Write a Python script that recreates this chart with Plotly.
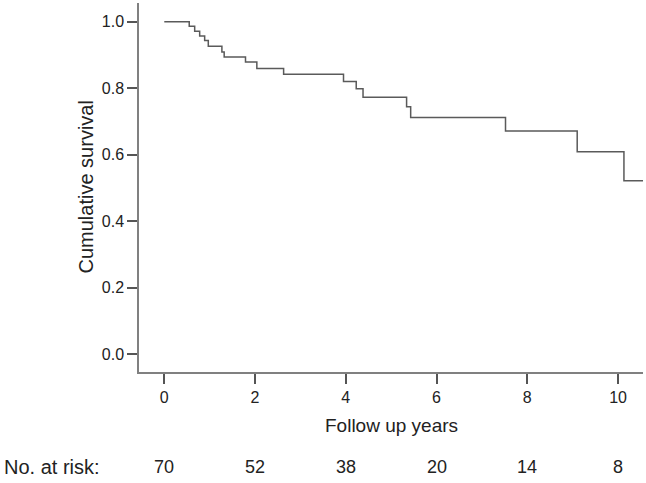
"""Kaplan-Meier survival curve with numbers at risk below the axis."""

import plotly.graph_objects as go

# ---------------------------------------------------------------------------
# Data
# ---------------------------------------------------------------------------
TIMES = [0, 0.55, 0.67, 0.78, 0.89, 0.97, 1.27, 1.32, 1.79, 2.04, 2.63,
         3.95, 4.23, 4.38, 5.34, 5.43, 7.52, 9.10, 10.13, 10.55]
SURVIVAL = [1.0, 0.986, 0.971, 0.957, 0.943, 0.926, 0.909, 0.894, 0.879, 0.859, 0.842,
            0.820, 0.798, 0.773, 0.744, 0.712, 0.671, 0.609, 0.522, 0.522]

RISK_YEARS = [0, 2, 4, 6, 8, 10]
AT_RISK = [70, 52, 38, 20, 14, 8]

X_TICKS = [0, 2, 4, 6, 8, 10]
Y_TICKS = [0.0, 0.2, 0.4, 0.6, 0.8, 1.0]

FONT = "Liberation Sans, Arial, sans-serif"
AXIS_COLOR = "#808080"
LINE_COLOR = "#5a5a5a"
TEXT_COLOR = "#222222"

fig = go.Figure(
    go.Scatter(
        x=TIMES,
        y=SURVIVAL,
        mode="lines",
        line={"shape": "hv", "color": LINE_COLOR, "width": 1.5},
        showlegend=False,
    )
)

axis_common = dict(
    showline=True,
    linecolor=AXIS_COLOR,
    linewidth=1.5,
    showgrid=False,
    zeroline=False,
    ticks="outside",
    ticklen=10,
    tickcolor="#555555",
    tickwidth=1.5,
    tickfont={"family": FONT, "size": 16, "color": TEXT_COLOR},
)

fig.update_xaxes(range=[-0.557, 10.55], tickvals=X_TICKS, **axis_common)
fig.update_yaxes(range=[-0.053, 1.056], tickvals=Y_TICKS, tickformat=".1f", **axis_common)

# axis titles
fig.add_annotation(
    text="Follow up years", xref="paper", yref="paper", x=0.5, y=0,
    xanchor="center", yanchor="middle", yshift=-53, showarrow=False,
    font={"family": FONT, "size": 19, "color": TEXT_COLOR},
)
fig.add_annotation(
    text="Cumulative survival", xref="paper", yref="paper", x=0, y=0.5,
    xanchor="center", yanchor="middle", xshift=-54, textangle=-90, showarrow=False,
    font={"family": FONT, "size": 20, "color": TEXT_COLOR},
)

# numbers at risk
fig.add_annotation(
    text="No. at risk:", xref="paper", yref="paper", x=0, y=0,
    xanchor="left", yanchor="middle", xshift=-137, yshift=-95, showarrow=False,
    font={"family": FONT, "size": 20, "color": TEXT_COLOR},
)
for yr, n in zip(RISK_YEARS, AT_RISK):
    fig.add_annotation(
        text=str(n), xref="x", yref="paper", x=yr, y=0,
        xanchor="center", yanchor="middle", yshift=-95, showarrow=False,
        font={"family": FONT, "size": 18, "color": TEXT_COLOR},
    )

fig.update_layout(
    width=646,
    height=483,
    margin={"l": 139, "r": 3, "t": 3, "b": 111},
    plot_bgcolor="white",
    paper_bgcolor="white",
)

fig.write_html(
    "out.html",
    config={"displayModeBar": False},
    post_script="document.body.style.margin='0';",
)
